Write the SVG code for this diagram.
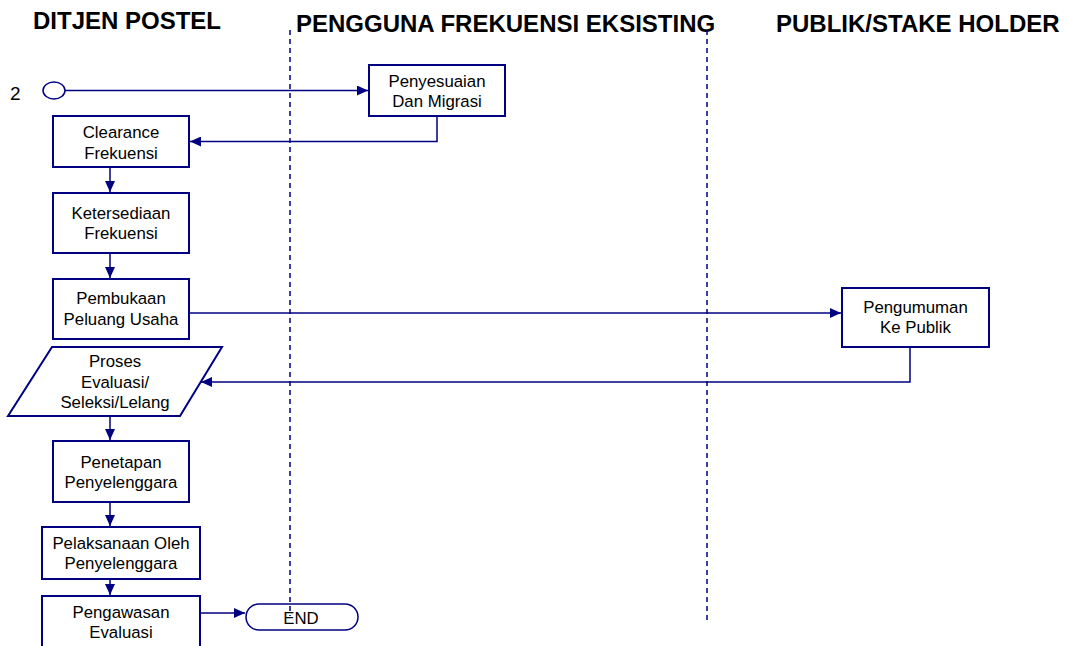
<svg xmlns="http://www.w3.org/2000/svg" width="1068" height="646" viewBox="0 0 1068 646">
<style>
.hdr{font-family:"Liberation Sans",Arial,sans-serif;font-weight:bold;font-size:24px;fill:#000}
.t{font-family:"Liberation Sans",Arial,sans-serif;font-size:16.8px;fill:#000;text-anchor:middle}
.box{fill:#fff;stroke:#000080;stroke-width:2}
.c{fill:none;stroke:#000080;stroke-width:1.5}
.lane{fill:none;stroke:#000080;stroke-width:1.5;stroke-dasharray:5 4}
</style>
<defs>
<marker id="ah" markerUnits="userSpaceOnUse" markerWidth="12" markerHeight="10" refX="11" refY="5" orient="auto">
<path d="M0,0 L11,5 L0,10 Z" fill="#000080"/>
</marker>
</defs>
<rect width="1068" height="646" fill="#fff"/>
<g id="headers">
<text class="hdr" x="33" y="29">DITJEN POSTEL</text>
<text class="hdr" x="296" y="32">PENGGUNA FREKUENSI EKSISTING</text>
<text class="hdr" x="776" y="32">PUBLIK/STAKE HOLDER</text>
</g>
<g id="lanes">
<line class="lane" x1="290" y1="30" x2="290" y2="616"/>
<line class="lane" x1="707" y1="30" x2="707" y2="622"/>
</g>
<g id="connectors">
<line class="c" x1="65" y1="90.5" x2="368" y2="90.5" marker-end="url(#ah)"/>
<polyline class="c" points="437,116 437,141.5 190,141.5" marker-end="url(#ah)"/>
<line class="c" x1="110" y1="167" x2="110" y2="192" marker-end="url(#ah)"/>
<line class="c" x1="110" y1="253" x2="110" y2="278" marker-end="url(#ah)"/>
<line class="c" x1="189" y1="313" x2="841" y2="313" marker-end="url(#ah)"/>
<polyline class="c" points="910,347 910,382 201,382" marker-end="url(#ah)"/>
<line class="c" x1="110" y1="416" x2="110" y2="440" marker-end="url(#ah)"/>
<line class="c" x1="110" y1="502" x2="110" y2="526" marker-end="url(#ah)"/>
<line class="c" x1="110" y1="579" x2="110" y2="595" marker-end="url(#ah)"/>
<line class="c" x1="200" y1="613" x2="245" y2="613" marker-end="url(#ah)"/>
</g>
<g id="start">
<text x="10" y="100" font-family="Liberation Sans, Arial, sans-serif" font-size="19">2</text>
<ellipse cx="54" cy="90.5" rx="11" ry="8.5" fill="#fff" stroke="#000080" stroke-width="1.5"/>
</g>
<g id="penyesuaian">
<rect class="box" x="369" y="65" width="136" height="51"/>
<text class="t" x="437" y="87">Penyesuaian</text>
<text class="t" x="437" y="107">Dan Migrasi</text>
</g>
<g id="clearance">
<rect class="box" x="53" y="116" width="136" height="51"/>
<text class="t" x="121" y="138">Clearance</text>
<text class="t" x="121" y="159">Frekuensi</text>
</g>
<g id="ketersediaan">
<rect class="box" x="53" y="193" width="136" height="60"/>
<text class="t" x="121" y="219">Ketersediaan</text>
<text class="t" x="121" y="239">Frekuensi</text>
</g>
<g id="pembukaan">
<rect class="box" x="53" y="279" width="136" height="60"/>
<text class="t" x="121" y="304">Pembukaan</text>
<text class="t" x="121" y="325">Peluang Usaha</text>
</g>
<g id="pengumuman">
<rect class="box" x="842" y="288" width="147" height="59"/>
<text class="t" x="915.5" y="313">Pengumuman</text>
<text class="t" x="915.5" y="333">Ke Publik</text>
</g>
<g id="proses">
<polygon class="box" points="52,347 222,347 180,416 8,416"/>
<text class="t" x="115" y="367">Proses</text>
<text class="t" x="115" y="388">Evaluasi/</text>
<text class="t" x="115" y="408">Seleksi/Lelang</text>
</g>
<g id="penetapan">
<rect class="box" x="53" y="441" width="136" height="61"/>
<text class="t" x="121" y="468">Penetapan</text>
<text class="t" x="121" y="488">Penyelenggara</text>
</g>
<g id="pelaksanaan">
<rect class="box" x="42" y="527" width="158" height="52"/>
<text class="t" x="121" y="549">Pelaksanaan Oleh</text>
<text class="t" x="121" y="569">Penyelenggara</text>
</g>
<g id="pengawasan">
<rect class="box" x="42" y="596" width="158" height="60"/>
<text class="t" x="121" y="618">Pengawasan</text>
<text class="t" x="121" y="638">Evaluasi</text>
</g>
<g id="end">
<rect x="246" y="604" width="112" height="26" rx="13" ry="13" fill="none" stroke="#000080" stroke-width="1.5"/>
<text class="t" x="301" y="624">END</text>
</g>
</svg>
